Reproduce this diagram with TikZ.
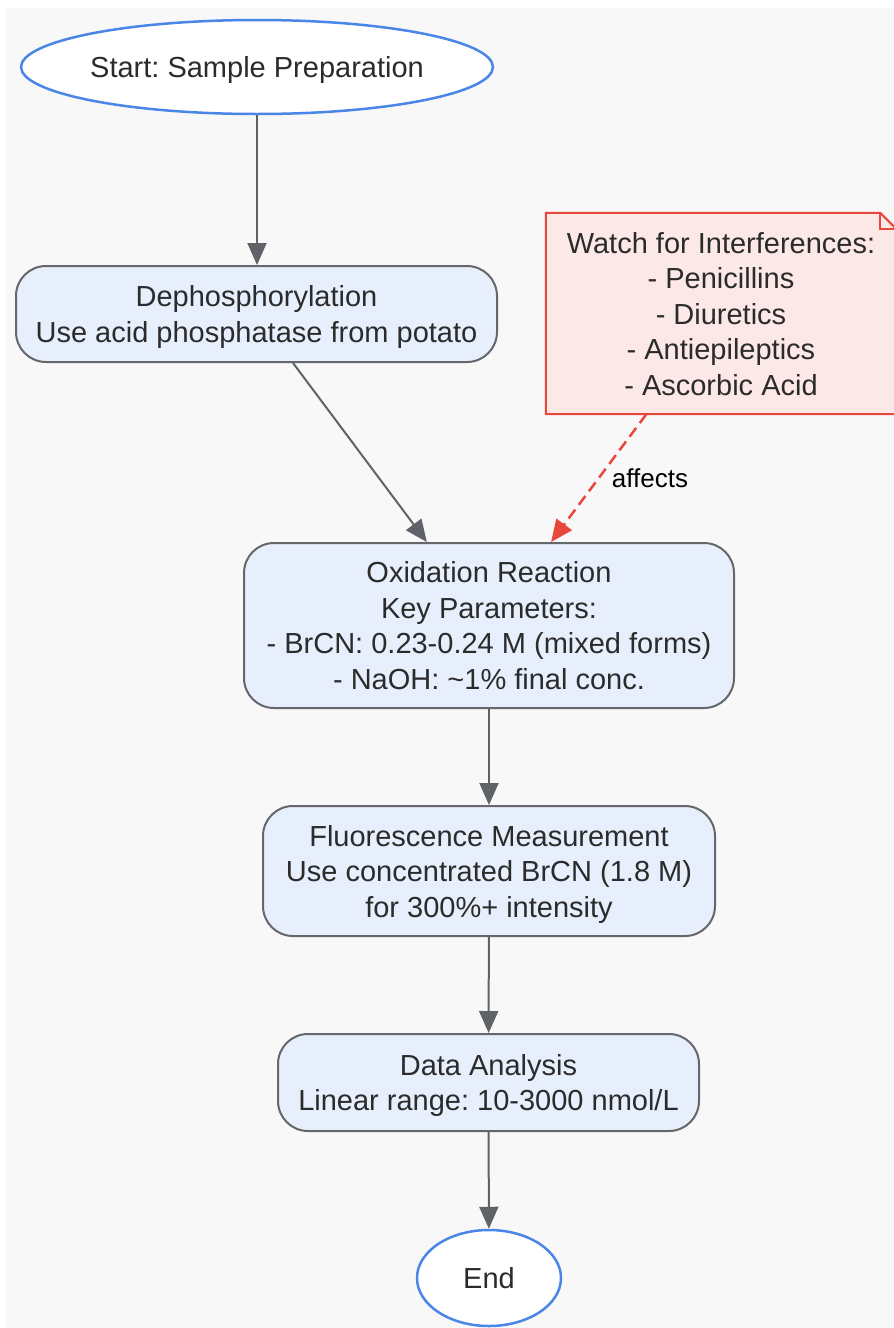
\documentclass[tikz,border=0pt]{standalone}
\usepackage{fontspec}
\setmainfont{Liberation Sans}
\frenchspacing
\usetikzlibrary{positioning,shapes.geometric,arrows.meta,backgrounds}

\definecolor{bggray}{HTML}{F8F8F8}
\definecolor{stepfill}{HTML}{E8EFFC}
\definecolor{stepline}{HTML}{65676B}
\definecolor{termline}{HTML}{4A86E8}
\definecolor{notefill}{HTML}{FDE8E8}
\definecolor{noteline}{HTML}{E8473C}
\definecolor{txt}{HTML}{2B2B2B}
\definecolor{flow}{HTML}{5F6368}

\tikzset{
  big/.style={font=\fontsize{29pt}{35.5pt}\selectfont, text=txt, text depth=0pt},
  stepbox/.style={big, draw=stepline, fill=stepfill, line width=2pt,
    rounded corners=30pt, align=center, inner sep=0pt},
  term/.style={big, ellipse, draw=termline, fill=white, line width=2.5pt, inner sep=0pt},
  flowarrow/.style={draw=flow, line width=2pt, -{Triangle[length=22pt,width=19pt]}},
  warnarrow/.style={draw=noteline, line width=2.5pt, dash pattern=on 11pt off 6pt,
    -{Triangle[length=22pt,width=19pt]}},
}

\begin{document}
\begin{tikzpicture}[x=1pt, y=-1pt]
  % page and background
  \useasboundingbox (0,0) rectangle (894,1328);

  % terminals
  \node[term, minimum width=470pt, minimum height=94pt] (start) at (257,67) {Start: Sample Preparation};
  \node[term, minimum width=144pt, minimum height=96pt] (end) at (489,1278) {End};

  % the steps
  \node[stepbox, minimum width=481pt, minimum height=96pt] (dephos) at (256.5,314)
    {Dephosphorylation\\Use acid phosphatase from potato};
  \node[stepbox, minimum width=490pt, minimum height=165pt] (oxid) at (489,625.5)
    {Oxidation Reaction\\Key Parameters:\\- BrCN: 0.23-0.24 M (mixed forms)\\- NaOH: \textasciitilde1\% final conc.};
  \node[stepbox, minimum width=452pt, minimum height=130pt] (fluor) at (489,871)
    {Fluorescence Measurement\\Use concentrated BrCN (1.8 M)\\for 300\%+ intensity};
  \node[stepbox, minimum width=421pt, minimum height=97pt] (data) at (488.5,1082.5)
    {Data Analysis\\Linear range: 10-3000 nmol/L};

  % the note, with its folded corner
  \node[big, align=center, minimum width=350pt, minimum height=201pt, inner sep=0pt] (note) at (721,313.5)
    {Watch for Interferences:\\- Penicillins\\- Diuretics\\- Antiepileptics\\- Ascorbic Acid};
  \begin{scope}[on background layer]
    \fill[bggray] (6,8) rectangle (894,1328);
    \filldraw[fill=notefill, draw=noteline, line width=2pt]
      (note.south west) -- (note.north west) -- ([xshift=-16pt]note.north east)
      -- ([yshift=-16pt]note.north east) -- (note.south east) -- cycle;
    \draw[noteline, line width=2pt] ([xshift=-16pt]note.north east) |- ([yshift=-16pt]note.north east);
  \end{scope}

  % Draw the connectors
  \draw[flowarrow] (start) -- (start |- dephos.north);
  \draw[flowarrow] (dephos) -- (oxid);
  \draw[flowarrow] (oxid) -- (fluor);
  \draw[flowarrow] (fluor) -- (data);
  \draw[flowarrow] (data) -- (end);
  \draw[warnarrow] (note) -- (oxid)
    node[midway, right=12pt, inner sep=0pt, font=\fontsize{26pt}{30pt}\selectfont, text=black] {affects};
\end{tikzpicture}
\end{document}
